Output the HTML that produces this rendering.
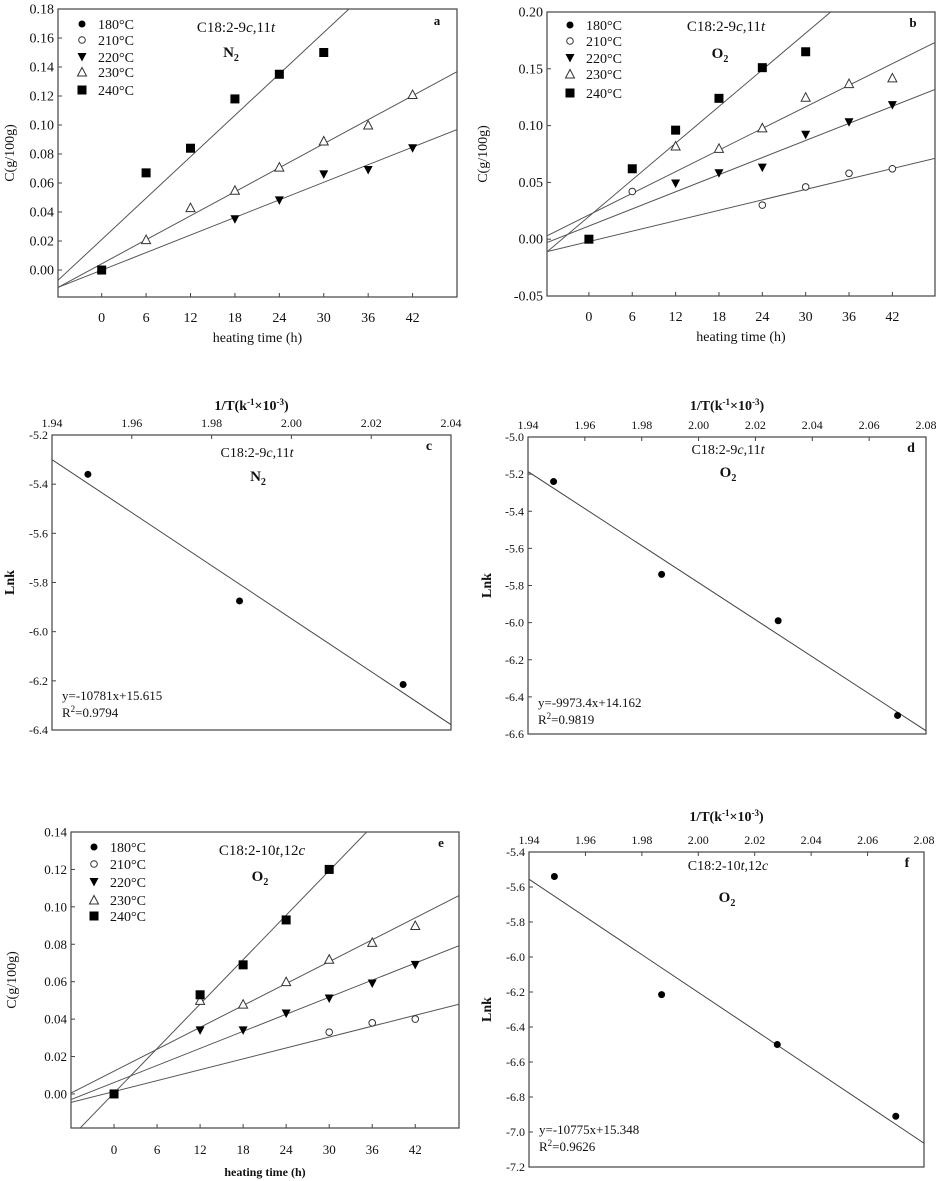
<!DOCTYPE html>
<html><head><meta charset="utf-8">
<style>
html,body{margin:0;padding:0;background:#fff;}
svg{display:block;font-family:"Liberation Serif",serif;}
</style></head>
<body>
<svg id="fig" width="941" height="1181" viewBox="0 0 941 1181" xmlns="http://www.w3.org/2000/svg"></svg>
<script>
// ---------- data ----------
const hours = [0, 6, 12, 18, 24, 30, 36, 42];
const tempLabels = ["180°C", "210°C", "220°C", "230°C", "240°C"];
const hourTicks = [0, 6, 12, 18, 24, 30, 36, 42];

const a240 = [0, 0.067, 0.084, 0.118, 0.135, 0.150, null, null];
const a230 = [null, 0.021, 0.043, 0.055, 0.071, 0.089, 0.100, 0.121];
const a220 = [null, null, null, 0.035, 0.048, 0.066, 0.069, 0.084];
const aFitSlope = [0.00476, 0.00276, 0.00202];
const aFitInt = [0.021, 0.0043, -0.0001];
const aYTicks = [0.00, 0.02, 0.04, 0.06, 0.08, 0.10, 0.12, 0.14, 0.16, 0.18];

const b240 = [0, 0.062, 0.096, 0.124, 0.151, 0.165, null, null];
const b230 = [null, null, 0.082, 0.080, 0.098, 0.125, 0.137, 0.142];
const b220 = [null, null, 0.049, 0.058, 0.063, 0.092, 0.103, 0.118];
const b210 = [null, 0.042, null, null, 0.030, 0.046, 0.058, 0.062];
const bFitSlope = [0.00538, 0.00317, 0.00251, 0.00153];
const bFitInt = [0.020, 0.0214, 0.0116, -0.0021];
const bYTicks = [-0.05, 0.00, 0.05, 0.10, 0.15, 0.20];

const e240 = [0, null, 0.053, 0.069, 0.093, 0.120, null, null];
const e230 = [null, null, 0.050, 0.048, 0.060, 0.072, 0.081, 0.090];
const e220 = [null, null, 0.034, 0.034, 0.043, 0.051, 0.059, 0.069];
const e210 = [null, null, null, null, null, 0.033, 0.038, 0.040];
const eFitSlope = [0.00396, 0.00195, 0.00152, 0.00097];
const eFitInt = [0.0005, 0.0122, 0.0061, 0.0013];
const eYTicks = [0.00, 0.02, 0.04, 0.06, 0.08, 0.10, 0.12, 0.14];

const invTc = [1.949, 1.987, 2.028];
const cLnk = [-5.36, -5.875, -6.215];
const cFit = [-10.781, 15.615];
const cXTicks = [1.94, 1.96, 1.98, 2.00, 2.02, 2.04];
const cYTicks = [-5.2, -5.4, -5.6, -5.8, -6.0, -6.2, -6.4];

const invT = [1.949, 1.987, 2.028, 2.070];
const dLnk = [-5.24, -5.74, -5.99, -6.50];
const dFit = [-9.9734, 14.162];
const dXTicks = [1.94, 1.96, 1.98, 2.00, 2.02, 2.04, 2.06, 2.08];
const dYTicks = [-5.0, -5.2, -5.4, -5.6, -5.8, -6.0, -6.2, -6.4, -6.6];

const fLnk = [-5.54, -6.215, -6.50, -6.91];
const fFit = [-10.775, 15.348];
const fYTicks = [-5.4, -5.6, -5.8, -6.0, -6.2, -6.4, -6.6, -6.8, -7.0, -7.2];

// ---------- helpers ----------
const NS = "http://www.w3.org/2000/svg";
const svg = document.getElementById("fig");
function el(tag, attrs, name, parent) {
  const n = document.createElementNS(NS, tag);
  for (const k in attrs) n.setAttribute(k, attrs[k]);
  
  
  (parent || svg).appendChild(n);
  return n;
}
function scale(d0, d1, r0, r1) { return v => r0 + (v - d0) * (r1 - r0) / (d1 - d0); }
function txt(x, y, s, name, opts, parent) {
  opts = opts || {};
  const t = el("text", {x: x, y: y, "font-size": opts.size || 13, "text-anchor": opts.anchor || "middle",
    "font-weight": opts.bold ? "bold" : "normal", fill: "#111"}, name, parent);
  if (opts.transform) t.setAttribute("transform", opts.transform);
  if (opts.html) t.innerHTML = s; else t.textContent = s;
  return t;
}
function marker(type, x, y, name, g) {
  const s = 4.5;
  if (type === 0) return el("circle", {cx: x, cy: y, r: 3.5, fill: "#000"}, name, g);
  if (type === 1) return el("circle", {cx: x, cy: y, r: 3.3, fill: "#fff", stroke: "#333", "stroke-width": 1}, name, g);
  if (type === 2) return el("path", {d: `M${x-s},${y-s+0.5}L${x+s},${y-s+0.5}L${x},${y+s}Z`, fill: "#000"}, name, g);
  if (type === 3) return el("path", {d: `M${x-s},${y+s-0.5}L${x+s},${y+s-0.5}L${x},${y-s}Z`, fill: "#fff", stroke: "#333", "stroke-width": 1}, name, g);
  return el("rect", {x: x - 4.5, y: y - 4.5, width: 9, height: 9, fill: "#000"}, name, g);
}
let clipId = 0;
function box(x0, y0, x1, y1, name) {
  const g = el("g", {}, name);
  el("rect", {x: x0, y: y0, width: x1 - x0, height: y1 - y0, fill: "none", stroke: "#444", "stroke-width": 1.2}, name + "-frame", g);
  const cp = el("clipPath", {id: "cp" + (++clipId)}, name + "-clip", g);
  el("rect", {x: x0, y: y0, width: x1 - x0, height: y1 - y0}, name + "-clip-rect", cp);
  const inner = el("g", {"clip-path": `url(#cp${clipId})`}, name + "-plot-area", g);
  return {g, inner};
}

// ---------- time panels ----------
function timePanel(cfg) {
  const X = scale(cfg.xd[0], cfg.xd[1], cfg.xr[0], cfg.xr[1]);
  const Y = scale(cfg.yd[0], cfg.yd[1], cfg.yr[0], cfg.yr[1]);
  const bx = box(cfg.xr[0], cfg.yr[1], cfg.xr[1], cfg.yr[0], cfg.id);
  const g = bx.g;
  hourTicks.forEach(h => {
    el("line", {x1: X(h), x2: X(h), y1: cfg.yr[0], y2: cfg.yr[0] - 4, stroke: "#444"}, cfg.id + "-x-tick", g);
    txt(X(h), cfg.xLabY, String(h), cfg.id + "-x-tick-label", {size: cfg.fs}, g);
  });
  cfg.yTicks.forEach(v => {
    el("line", {x1: cfg.xr[0], x2: cfg.xr[0] + 4, y1: Y(v), y2: Y(v), stroke: "#444"}, cfg.id + "-y-tick", g);
    txt(cfg.xr[0] - 4, Y(v) + 4.5, v.toFixed(2), cfg.id + "-y-tick-label", {size: cfg.fs, anchor: "end"}, g);
  });
  txt((cfg.xr[0] + cfg.xr[1]) / 2, cfg.xTitleY, "heating time (h)", cfg.id + "-x-axis-title", {size: cfg.tfs, bold: cfg.tbold}, g);
  txt(cfg.yTitleX, (cfg.yr[0] + cfg.yr[1]) / 2, "C(g/100g)", cfg.id + "-y-axis-title", {size: 14, transform: `rotate(-90 ${cfg.yTitleX} ${(cfg.yr[0] + cfg.yr[1]) / 2})`}, g);
  cfg.fitSlope.forEach((s, i) => {
    const x0 = cfg.xd[0], x1 = cfg.xd[1];
    el("line", {x1: X(x0), y1: Y(cfg.fitInt[i] + s * x0), x2: X(x1), y2: Y(cfg.fitInt[i] + s * x1), stroke: "#555", "stroke-width": 1}, cfg.id + "-fit-line-" + cfg.fitTemps[i], bx.inner);
  });
  cfg.series.forEach((ser, si) => {
    ser.forEach((v, i) => { if (v !== null) marker(cfg.types[si], X(hours[i]), Y(v), cfg.id + "-point-" + cfg.serNames[si], bx.inner); });
  });
  tempLabels.forEach((t, i) => {
    marker(i, cfg.legX, cfg.legY[i], cfg.id + "-legend-marker", g);
    txt(cfg.legX + 16, cfg.legY[i] + 5, t, cfg.id + "-legend-label", {size: 14, anchor: "start"}, g);
  });
  txt(cfg.titleX, cfg.titleY, cfg.title, cfg.id + "-compound-label", {size: 15, html: true}, g);
  txt(cfg.gasX, cfg.gasY, cfg.gas, cfg.id + "-atmosphere-label", {size: 15, bold: true, html: true}, g);
  txt(cfg.letX, cfg.letY, cfg.letter, cfg.id + "-panel-letter", {size: 13, bold: true}, g);
}

timePanel({id: "panel-a", xd: [-5.9, 48], xr: [58, 457], yd: [-0.0186, 0.18], yr: [297, 9], fs: 14, tfs: 14, tbold: false,
  yTicks: aYTicks, xLabY: 322, xTitleY: 342, yTitleX: 14,
  series: [a220, a230, a240], types: [2, 3, 4], serNames: ["220C", "230C", "240C"],
  fitSlope: aFitSlope, fitInt: aFitInt, fitTemps: ["240C", "230C", "220C"],
  legX: 82, legY: [24, 40, 57, 72, 90],
  title: 'C18:2-9<tspan font-style="italic">c</tspan>,11<tspan font-style="italic">t</tspan>', titleX: 236, titleY: 32,
  gas: 'N<tspan font-size="10" dy="4">2</tspan>', gasX: 231, gasY: 57, letter: "a", letX: 437, letY: 25});

timePanel({id: "panel-b", xd: [-5.8, 47.9], xr: [547, 935], yd: [-0.05, 0.20], yr: [296, 12], fs: 14, tfs: 14, tbold: false,
  yTicks: bYTicks, xLabY: 321, xTitleY: 341, yTitleX: 487,
  series: [b210, b220, b230, b240], types: [1, 2, 3, 4], serNames: ["210C", "220C", "230C", "240C"],
  fitSlope: bFitSlope, fitInt: bFitInt, fitTemps: ["240C", "230C", "220C", "210C"],
  legX: 570, legY: [25, 41, 58, 74, 93],
  title: 'C18:2-9<tspan font-style="italic">c</tspan>,11<tspan font-style="italic">t</tspan>', titleX: 726, titleY: 31,
  gas: 'O<tspan font-size="10" dy="4">2</tspan>', gasX: 720, gasY: 58, letter: "b", letX: 913, letY: 27});

timePanel({id: "panel-e", xd: [-6.0, 48.1], xr: [71, 459], yd: [-0.0182, 0.14], yr: [1128, 832], fs: 13, tfs: 12, tbold: true,
  yTicks: eYTicks, xLabY: 1154, xTitleY: 1176, yTitleX: 16,
  series: [e210, e220, e230, e240], types: [1, 2, 3, 4], serNames: ["210C", "220C", "230C", "240C"],
  fitSlope: eFitSlope, fitInt: eFitInt, fitTemps: ["240C", "230C", "220C", "210C"],
  legX: 94, legY: [847, 864, 882, 900, 916],
  title: 'C18:2-10<tspan font-style="italic">t</tspan>,12<tspan font-style="italic">c</tspan>', titleX: 262, titleY: 855,
  gas: 'O<tspan font-size="10" dy="4">2</tspan>', gasX: 260, gasY: 881, letter: "e", letX: 441, letY: 847});

// ---------- Arrhenius panels ----------
function arrPanel(cfg) {
  const X = scale(cfg.xd[0], cfg.xd[1], cfg.xr[0], cfg.xr[1]);
  const Y = scale(cfg.yd[0], cfg.yd[1], cfg.yr[0], cfg.yr[1]);
  const bx = box(cfg.xr[0], cfg.yr[0], cfg.xr[1], cfg.yr[1], cfg.id);
  const g = bx.g;
  cfg.xTicks.forEach(v => {
    el("line", {x1: X(v), x2: X(v), y1: cfg.yr[0], y2: cfg.yr[0] + 4, stroke: "#444"}, cfg.id + "-x-tick", g);
    txt(X(v), cfg.yr[0] - 8, v.toFixed(2), cfg.id + "-x-tick-label", {size: 12}, g);
  });
  cfg.yTicks.forEach(v => {
    el("line", {x1: cfg.xr[0], x2: cfg.xr[0] + 4, y1: Y(v), y2: Y(v), stroke: "#444"}, cfg.id + "-y-tick", g);
    txt(cfg.xr[0] - 4, Y(v) + 4, v.toFixed(1), cfg.id + "-y-tick-label", {size: 12, anchor: "end"}, g);
  });
  txt((cfg.xr[0] + cfg.xr[1]) / 2, cfg.titleTopY, '1/T(k<tspan font-size="9" dy="-5">-1</tspan><tspan dy="5">×10</tspan><tspan font-size="9" dy="-5">-3</tspan><tspan dy="5">)</tspan>', cfg.id + "-x-axis-title", {size: 14, bold: true, html: true}, g);
  const cy = (cfg.yr[0] + cfg.yr[1]) / 2;
  txt(cfg.yTitleX, cy, "Lnk", cfg.id + "-y-axis-title", {size: 14, bold: true, transform: `rotate(-90 ${cfg.yTitleX} ${cy})`}, g);
  const f = x => cfg.fit[0] * x + cfg.fit[1];
  el("line", {x1: X(cfg.xd[0]), y1: Y(f(cfg.xd[0])), x2: X(cfg.xd[1]), y2: Y(f(cfg.xd[1])), stroke: "#444", "stroke-width": 1}, cfg.id + "-regression-line", bx.inner);
  cfg.lnk.forEach((v, i) => marker(0, X(cfg.invT[i]), Y(v), cfg.id + "-point", bx.inner));
  txt(cfg.subX, cfg.subY, cfg.sub, cfg.id + "-compound-label", {size: 14, html: true}, g);
  txt(cfg.gasX, cfg.gasY, 'O<tspan font-size="10" dy="4">2</tspan>'.replace("O", cfg.gas), cfg.id + "-atmosphere-label", {size: 15, bold: true, html: true}, g);
  txt(cfg.letX, cfg.letY, cfg.letter, cfg.id + "-panel-letter", {size: 14, bold: true}, g);
  txt(cfg.xr[0] + 10, cfg.eqY, cfg.eq, cfg.id + "-equation", {size: 13, anchor: "start"}, g);
  txt(cfg.xr[0] + 10, cfg.eqY + 17, 'R<tspan font-size="9" dy="-5">2</tspan><tspan dy="5">=' + cfg.r2 + '</tspan>', cfg.id + "-r-squared", {size: 13, anchor: "start", html: true}, g);
}

arrPanel({id: "panel-c", xd: [1.94, 2.04], xr: [52, 451], yd: [-5.2, -6.4], yr: [435, 730],
  xTicks: cXTicks, yTicks: cYTicks, titleTopY: 410, yTitleX: 14, invT: invTc, lnk: cLnk, fit: cFit,
  sub: 'C18:2-9<tspan font-style="italic">c</tspan>,11<tspan font-style="italic">t</tspan>', subX: 257, subY: 457,
  gas: "N", gasX: 258, gasY: 481, letter: "c", letX: 429, letY: 450, eqY: 700, eq: "y=-10781x+15.615", r2: "0.9794"});

arrPanel({id: "panel-d", xd: [1.94, 2.08], xr: [528, 926], yd: [-5.0, -6.6], yr: [437, 734],
  xTicks: dXTicks, yTicks: dYTicks, titleTopY: 410, yTitleX: 491, invT: invT, lnk: dLnk, fit: dFit,
  sub: 'C18:2-9<tspan font-style="italic">c</tspan>,11<tspan font-style="italic">t</tspan>', subX: 728, subY: 454,
  gas: "O", gasX: 728, gasY: 477, letter: "d", letX: 911, letY: 452, eqY: 707, eq: "y=-9973.4x+14.162", r2: "0.9819"});

arrPanel({id: "panel-f", xd: [1.94, 2.08], xr: [529, 924], yd: [-5.4, -7.2], yr: [852, 1167],
  xTicks: dXTicks, yTicks: fYTicks, titleTopY: 821, yTitleX: 491, invT: invT, lnk: fLnk, fit: fFit,
  sub: 'C18:2-10<tspan font-style="italic">t</tspan>,12<tspan font-style="italic">c</tspan>', subX: 728, subY: 870,
  gas: "O", gasX: 727, gasY: 902, letter: "f", letX: 907, letY: 867, eqY: 1134, eq: "y=-10775x+15.348", r2: "0.9626"});
</script>
</body></html>
